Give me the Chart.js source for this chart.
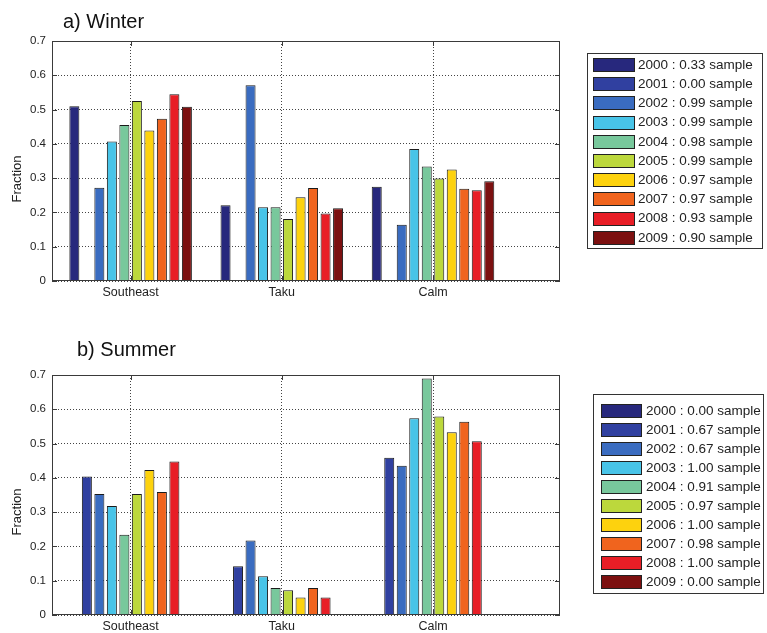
<!DOCTYPE html>
<html>
<head>
<meta charset="utf-8">
<script src="https://cdn.jsdelivr.net/npm/chart.js@4.4.1/dist/chart.umd.min.js"></script>
<style>
  body { margin: 0; background: #fff; }
  #wrap { position: relative; width: 767px; height: 633px; }
  .panel { position: absolute; left: 0; width: 767px; }
</style>
</head>
<body>
<div id="wrap">
  <div class="panel" style="top:0;height:310px"><canvas id="winter"></canvas></div>
  <div class="panel" style="top:310px;height:323px"><canvas id="summer"></canvas></div>
</div>
<script>
const categories = ['Southeast', 'Taku', 'Calm'];
const years = ['2000', '2001', '2002', '2003', '2004', '2005', '2006', '2007', '2008', '2009'];
const yearColors = ['#27287d', '#3040a0', '#3a6cc0', '#48c4e8', '#78c89c',
                    '#bcd83c', '#fdd20e', '#f0641e', '#e81e26', '#7c1010'];

const winterSample = ['0.33', '0.00', '0.99', '0.99', '0.98', '0.99', '0.97', '0.97', '0.93', '0.90'];
const summerSample = ['0.00', '0.67', '0.67', '1.00', '0.91', '0.97', '1.00', '0.98', '1.00', '0.00'];

// one row per year: [Southeast, Taku, Calm]
const winterFraction = [
  [0.510, 0.221, 0.275],
  [null, null, null],
  [0.272, 0.571, 0.164],
  [0.407, 0.215, 0.385],
  [0.455, 0.215, 0.334],
  [0.525, 0.181, 0.299],
  [0.439, 0.244, 0.325],
  [0.473, 0.271, 0.269],
  [0.545, 0.197, 0.265],
  [0.508, 0.212, 0.291]
];
const summerFraction = [
  [null, null, null],
  [0.404, 0.142, 0.459],
  [0.353, 0.217, 0.435],
  [0.318, 0.113, 0.574],
  [0.234, 0.079, 0.690],
  [0.353, 0.072, 0.579],
  [0.423, 0.051, 0.533],
  [0.359, 0.079, 0.564],
  [0.448, 0.051, 0.507],
  [null, null, null]
];
const yTicks = [0, 0.1, 0.2, 0.3, 0.4, 0.5, 0.6, 0.7];

Chart.defaults.font.family = '"Liberation Sans", Arial, Helvetica, sans-serif';
Chart.defaults.color = '#222';

// frame, inward ticks, panel title, y title and boxed legend
const matlabLook = {
  id: 'matlabLook',
  afterDatasetsDraw(chart, args, opts) {
    const { ctx, chartArea: a, scales: { x, y } } = chart;
    ctx.save();
    ctx.strokeStyle = '#3a3a3a';
    ctx.lineWidth = 1;
    ctx.strokeRect(a.left + 0.5, a.top + 0.5, a.right - a.left - 1, a.bottom - a.top - 1);

    ctx.beginPath();
    y.ticks.forEach(t => {
      const py = Math.round(y.getPixelForValue(t.value)) + 0.5;
      ctx.moveTo(a.left, py); ctx.lineTo(a.left + 5, py);
      ctx.moveTo(a.right - 5, py); ctx.lineTo(a.right, py);
    });
    x.ticks.forEach(t => {
      const px = Math.round(x.getPixelForValue(t.value)) + 0.5;
      ctx.moveTo(px, a.bottom); ctx.lineTo(px, a.bottom - 5);
      ctx.moveTo(px, a.top); ctx.lineTo(px, a.top + 5);
    });
    ctx.stroke();

    ctx.fillStyle = '#111';
    ctx.font = '20px "Liberation Sans", Arial, sans-serif';
    ctx.textAlign = 'left';
    ctx.textBaseline = 'alphabetic';
    ctx.fillText(opts.title, opts.titleX, opts.titleY);

    ctx.save();
    ctx.translate(opts.yTitleX, opts.yTitleY);
    ctx.rotate(-Math.PI / 2);
    ctx.font = '13px "Liberation Sans", Arial, sans-serif';
    ctx.textAlign = 'center';
    ctx.textBaseline = 'middle';
    ctx.fillStyle = '#222';
    ctx.fillText('Fraction', 0, 0);
    ctx.restore();

    const lg = opts.legend;
    ctx.fillStyle = '#fff';
    ctx.fillRect(lg.left, lg.top, lg.right - lg.left, lg.bottom - lg.top);
    ctx.strokeStyle = '#333';
    ctx.strokeRect(lg.left + 0.5, lg.top + 0.5, lg.right - lg.left, lg.bottom - lg.top);
    ctx.font = '13.5px "Liberation Sans", Arial, sans-serif';
    ctx.textBaseline = 'middle';
    chart.data.datasets.forEach((ds, i) => {
      const cy = lg.firstRow + i * lg.rowGap;
      ctx.fillStyle = ds.backgroundColor;
      ctx.fillRect(lg.swatchX, Math.round(cy - 7), lg.swatchW, 14);
      ctx.strokeStyle = '#222';
      ctx.strokeRect(lg.swatchX + 0.5, Math.round(cy - 7) + 0.5, lg.swatchW - 1, 13);
      ctx.fillStyle = '#222';
      ctx.fillText(ds.label, lg.textX, cy);
    });
    ctx.restore();
  }
};

function makePanel(canvasId, fraction, sample, look, padTop, xHeight) {
  const datasets = years.map((yr, i) => ({
    label: `${yr} : ${sample[i]} sample`,
    data: fraction[i].map((v, k) => ({ x: k + 1, y: v })),
    backgroundColor: yearColors[i],
    borderColor: '#1a1a1a',
    borderWidth: 1,
    categoryPercentage: 0.827,
    barPercentage: 0.8
  }));

  return new Chart(document.getElementById(canvasId), {
    type: 'bar',
    data: { datasets },
    plugins: [matlabLook],
    options: {
      responsive: true,
      maintainAspectRatio: false,
      animation: false,
      layout: { padding: { top: padTop, right: 207, bottom: 0, left: 0 } },
      plugins: {
        legend: { display: false },
        tooltip: { enabled: false },
        matlabLook: look
      },
      scales: {
        x: {
          type: 'linear',
          offset: false,
          min: 0.48,
          max: 3.84,
          afterBuildTicks: s => { s.ticks = categories.map((c, i) => ({ value: i + 1 })); },
          afterFit: s => { s.height = xHeight; },
          ticks: {
            callback: v => categories[v - 1],
            font: { size: 12.5 },
            padding: 4,
            maxRotation: 0
          },
          grid: { offset: false, color: '#444', lineWidth: 1, drawTicks: false },
          border: { display: false, dash: [1, 2] }
        },
        y: {
          min: 0,
          max: 0.7,
          afterBuildTicks: s => { s.ticks = yTicks.map(v => ({ value: v })); },
          afterFit: s => { s.width = 52; },
          ticks: { font: { size: 11.5 }, padding: 6 },
          grid: { color: '#444', lineWidth: 1, drawTicks: false },
          border: { display: false, dash: [1, 2] }
        }
      }
    }
  });
}

makePanel('winter', winterFraction, winterSample, {
  title: 'a) Winter', titleX: 63, titleY: 28, yTitleX: 17, yTitleY: 179,
  legend: { left: 587, top: 53, right: 762, bottom: 248,
            swatchX: 593, swatchW: 42, textX: 638, firstRow: 65, rowGap: 19.2 }
}, 41, 29);

makePanel('summer', summerFraction, summerSample, {
  title: 'b) Summer', titleX: 77, titleY: 46, yTitleX: 17, yTitleY: 202,
  legend: { left: 593, top: 84, right: 763, bottom: 283,
            swatchX: 601, swatchW: 41, textX: 646, firstRow: 101, rowGap: 19 }
}, 65, 18);
</script>
</body>
</html>
